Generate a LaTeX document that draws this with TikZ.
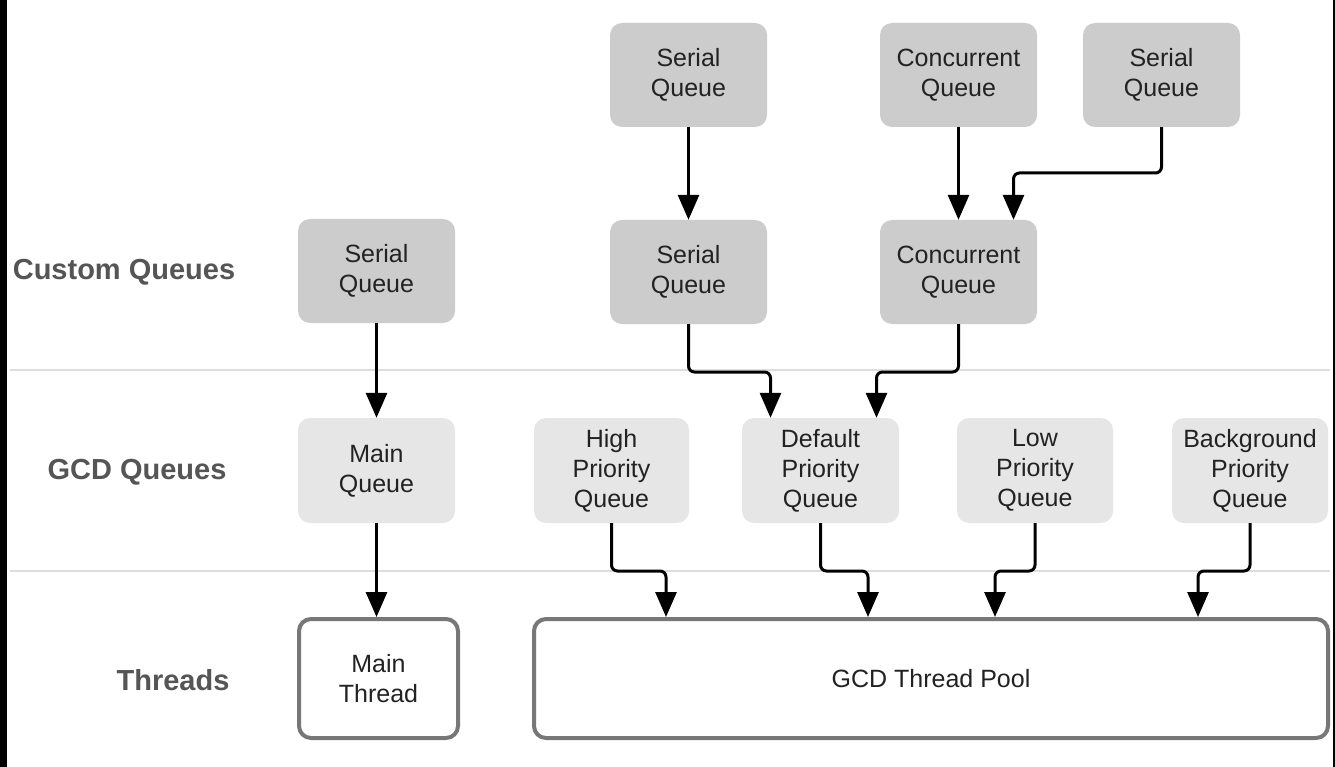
\documentclass[tikz,border=0pt]{standalone}
\usepackage{fontspec}
\setmainfont{Liberation Sans}
\usetikzlibrary{arrows.meta,calc}
\definecolor{darkq}{HTML}{CCCCCC}
\definecolor{lightq}{HTML}{E6E6E6}
\definecolor{threadedge}{HTML}{777777}
\definecolor{labelgray}{HTML}{555555}
\definecolor{sepgray}{HTML}{DDDDDD}
\definecolor{txt}{HTML}{222222}
\begin{document}
\begin{tikzpicture}[x=1pt,y=-1pt,
  qbox/.style={rounded corners=12pt, minimum width=157pt, minimum height=104pt,
     align=center, text=txt, inner sep=0pt,
     font=\fontsize{25}{30}\selectfont},
  custq/.style={qbox, fill=darkq},
  gcdq/.style={qbox, fill=lightq},
  thr/.style={qbox, draw=threadedge, line width=4pt, fill=white, minimum height=119pt},
  rowlabel/.style={font=\fontsize{29}{33}\selectfont\bfseries, text=labelgray},
  arr/.style={line width=3pt, rounded corners=6pt, -{Triangle[width=21pt,length=25pt]}},
  sep/.style={sepgray, line width=2pt}
]
\useasboundingbox (0,0) rectangle (1335,767);
\fill[white] (0,0) rectangle (1335,767);
\fill[black] (0,0) rectangle (7,767);
\fill[black] (1333,0) rectangle (1335,767);

% separators
\draw[sep] (10,370) -- (1330,370);
\draw[sep] (10,571) -- (1330,571);

% row labels
\node[rowlabel] (lcustom) at (124,272) {Custom Queues};
\node[rowlabel] (lgcd) at (137,472) {GCD Queues};
\node[rowlabel] (lthr) at (173,680) {Threads};

% top row
\node[custq] (s1) at (688.5,75) {Serial\\Queue};
\node[custq] (c1) at (958.5,75) {Concurrent\\Queue};
\node[custq] (s3) at (1161.5,75) {Serial\\Queue};

% custom row
\node[custq] (s0) at (376.5,271) {Serial\\Queue};
\node[custq] (s2) at (688.5,272) {Serial\\Queue};
\node[custq] (c2) at (958.5,272) {Concurrent\\Queue};

% gcd row
\node[gcdq, minimum height=105pt] (mq) at (376.5,470.5) {Main\\Queue};
\node[gcdq, minimum height=105pt, minimum width=155pt] (hq) at (611.5,470.5) {High\\Priority\\Queue};
\node[gcdq, minimum height=105pt] (dq) at (820.5,470.5) {Default\\Priority\\Queue};
\node[gcdq, minimum height=105pt, minimum width=156pt] (lq) at (1035,470.5) {Low\\Priority\\Queue};
\node[gcdq, minimum height=105pt, minimum width=156pt] (bq) at (1250,470.5) {Background\\Priority\\Queue};

% threads
\node[thr, minimum width=159pt] (mt) at (378.5,678.5) {Main\\Thread};
\node[thr, minimum width=794pt] (pool) at (931,678.5) {GCD Thread Pool};

% arrows
\draw[arr] (s1.south) -- (s2.north);
\draw[arr] (c1.south) -- (c2.north);
\draw[arr] (s3.south) -- (s3.south |- 0,173) -| ([xshift=55pt]c2.north);
\draw[arr] (s0.south) -- (mq.north);
\draw[arr] (s2.south) -- (s2.south |- 0,372) -| ([xshift=-50pt]dq.north);
\draw[arr] (c2.south) -- (c2.south |- 0,372) -| ([xshift=56pt]dq.north);
\draw[arr] (mq.south) -- (mq.south |- mt.north);
\draw[arr] (hq.south) -- (hq.south |- 0,571) -| ([xshift=-265pt]pool.north);
\draw[arr] (dq.south) -- (dq.south |- 0,571) -| ([xshift=-63pt]pool.north);
\draw[arr] (lq.south) -- (lq.south |- 0,571) -| ([xshift=64pt]pool.north);
\draw[arr] (bq.south) -- (bq.south |- 0,571) -| ([xshift=267pt]pool.north);
\end{tikzpicture}
\end{document}
